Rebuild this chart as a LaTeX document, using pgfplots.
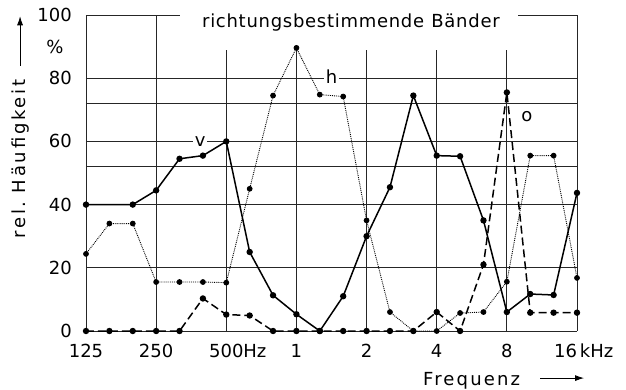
\documentclass[border=0pt]{standalone}
\usepackage{fontspec}
\setmainfont{DejaVu Sans}
\newfontfamily\lsA{DejaVu Sans}[LetterSpace=4]
\newfontfamily\lsB{DejaVu Sans}[LetterSpace=15]
\newfontfamily\lsC{DejaVu Sans}[LetterSpace=12]
\usepackage{pgfplots}
\usepackage{pgfplotstable}
\pgfplotsset{compat=1.18}
\usetikzlibrary{arrows.meta}

% band index: 0=125 Hz, 1=160, 2=200, 3=250, ... 21=16 kHz (third octaves)
\pgfplotstableread{
x y
0 40
2 40
3 44.5
4 54.5
5 55.5
6 60
7 25
8 11.3
9 5.3
10 0
11 11
12 30
13 45.5
14 74.5
15 55.5
16 55.3
17 35
18 6
19 11.7
20 11.4
21 43.7
}\dataV
\pgfplotstableread{
x y
0 24.4
1 34
2 34
3 15.5
4 15.5
5 15.5
6 15.3
7 45
8 74.5
9 89.6
10 74.8
11 74.2
12 35
13 6
14 0
15 0
16 5.7
17 6
18 15.6
19 55.5
20 55.5
21 16.8
}\dataH
\pgfplotstableread{
x y
0 0
1 0
2 0
3 0
4 0
5 10.3
6 5.2
7 4.9
8 0
9 0
10 0
11 0
12 0
13 0
14 0
15 6
16 0
17 21
18 75.5
19 5.8
20 5.8
21 5.8
}\dataO

\begin{document}
\begin{tikzpicture}[font=\fontsize{18}{21}\selectfont]
\path[use as bounding box] (-86pt,-58pt) rectangle (540pt,331pt);
\begin{axis}[
  at={(0,0)}, anchor=south west,
  scale only axis, width=491pt, height=316pt,
  xmin=0, xmax=21, ymin=0, ymax=100,
  axis line style={draw=none},
  major tick length=0pt,
  grid=major,
  grid style={black!85, line width=0.8pt},
  xtick={0,3,...,21},
  xticklabels={125,250,500\rlap{Hz},1,2,4,8,\llap{16}\rlap{\,kHz}},
  ytick={0,20,40,60,80,100},
  yticklabels={0,20,40,60,80,100},
  extra y ticks={52,72},
  extra y tick labels={},
  extra y tick style={grid=major},
  xticklabel style={anchor=base, inner sep=0pt, yshift=-26pt},
  yticklabel style={anchor=east, inner sep=0pt, xshift=-14pt},
  clip=false,
]
\fill[white] (axis cs:4.02,89) rectangle (axis cs:18.48,101);
\node[anchor=base, inner sep=0pt] at (axis cs:11.33,95.9) {\lsA richtungsbestimmende\hspace{0.4em}Bänder};
\node[fill=white, inner sep=2pt] at (axis cs:4.88,60) {v};
\node[fill=white, inner sep=2pt] at (axis cs:10.5,80.5) {h};
\node at (axis cs:18.86,67.7) {o};
\node at (axis cs:-1.33,89.9) {\%};
\node[rotate=90, anchor=center] at (axis cs:-2.82,54.4) {\lsB rel.\ Häufigkeit};
\draw[-{Latex[length=9pt,width=6pt]}, line width=0.8pt] (axis cs:-2.82,84) -- (axis cs:-2.82,99.6);
\node[anchor=base west, inner sep=0pt] at (axis cs:14.41,-17.1) {\lsC Frequenz};
\draw[-{Latex[length=9pt,width=6pt]}, line width=0.8pt] (axis cs:19.42,-14.9) -- (axis cs:21.3,-14.9);

\addplot[black, line width=1.5pt, mark=*, mark size=2.4pt] table {\dataV};
\addplot[black, line width=0.9pt, densely dotted, mark=*, mark size=2.4pt, mark options={solid}] table {\dataH};
\addplot[black, line width=1.5pt, dash pattern=on 8pt off 4pt, mark=*, mark size=2.4pt, mark options={solid}] table {\dataO};
\end{axis}
\end{tikzpicture}
\end{document}
